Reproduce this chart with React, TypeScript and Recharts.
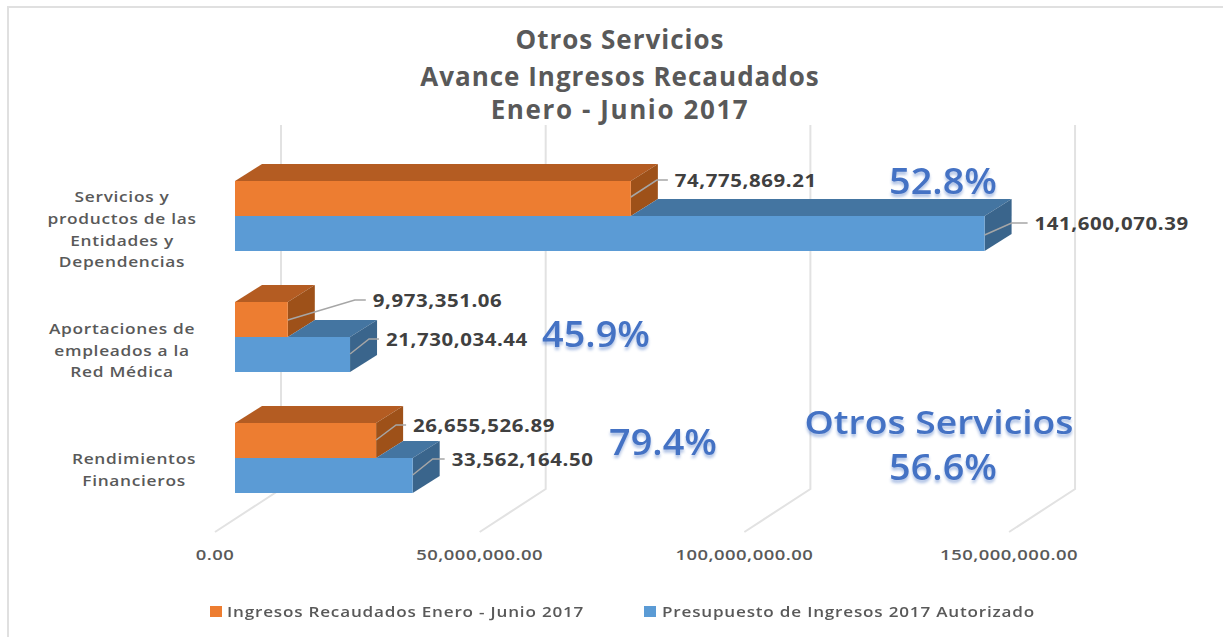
import React from 'react';
import { BarChart, Bar, XAxis, YAxis, CartesianGrid, Legend, LabelList } from 'recharts';

const CATEGORIES = [
  'Servicios y|productos de las|Entidades y|Dependencias',
  'Aportaciones de|empleados a la|Red Médica',
  'Rendimientos|Financieros',
];
const INGRESOS = [74775869.21, 9973351.06, 26655526.89];
const PRESUPUESTO = [141600070.39, 21730034.44, 33562164.5];
const X_TICKS = [0, 50000000, 100000000, 150000000];
const TITLE_LINES = ['Otros Servicios', 'Avance Ingresos Recaudados', 'Enero - Junio 2017'];
const NAME_INGRESOS = 'Ingresos Recaudados Enero - Junio 2017';
const NAME_PRESUPUESTO = 'Presupuesto de Ingresos 2017 Autorizado';

const rows = CATEGORIES.map((name, i) => ({
  name,
  ingresos: INGRESOS[i],
  presupuesto: PRESUPUESTO[i],
}));

const WIDTH = 1223;
const HEIGHT = 637;
const ORANGE = '#ED7D31';
const ORANGE_TOP = '#B45C22';
const ORANGE_SIDE = '#9E5119';
const BLUE = '#5B9BD5';
const BLUE_TOP = '#4475A1';
const BLUE_SIDE = '#3A658C';
const TEXT = '#595959';
const LABEL = '#404040';
const GRID = '#e2e2e2';
const ACCENT = '#4472C4';
const FONT = '"Open Sans", sans-serif';

// 3D look of the original
const BAR_SHIFT = 20;
const DEPTH_X = 27;
const DEPTH_Y = 17;
const BACK_X = 66;
const WALL_TOP = 125;
const FLOOR_BACK = 489;
const FLOOR_FRONT = 532;

// category labels are not all centred on the same spot in the original
const CATEGORY_POS = [
  { x: 122, dy: 19 },
  { x: 122, dy: 19 },
  { x: 134, dy: 17 },
];

// leader line shape relative to the bar end, per row
const ORANGE_LEADERS = [
  { dx: 26, dy: -17, run: 11, startY: 16 },
  { dx: 67, dy: -20, run: 11, startY: 18 },
  { dx: 20, dy: -15, run: 10, startY: 17 },
];
const BLUE_LEADERS = [
  { dx: 27, dy: -12, run: 16, startY: 19 },
  { dx: 19, dy: -15, run: 10, startY: 17 },
  { dx: 20, dy: -16, run: 12, startY: 17 },
];

const money = (v: number) =>
  v.toLocaleString('en-US', { minimumFractionDigits: 2, maximumFractionDigits: 2 });

const Box = (props: any) => {
  const { x, y, width, height, front, top, side, startFrom } = props;
  const left = x + BAR_SHIFT;
  const right = left + width;
  const topStart = startFrom ? left + startFrom(props) : left;
  return (
    <g>
      <polygon
        points={`${topStart},${y} ${topStart + DEPTH_X},${y - DEPTH_Y} ${right + DEPTH_X},${y - DEPTH_Y} ${right},${y}`}
        fill={top}
      />
      <polygon
        points={`${right},${y} ${right + DEPTH_X},${y - DEPTH_Y} ${right + DEPTH_X},${y + height - DEPTH_Y} ${right},${y + height}`}
        fill={side}
      />
      <rect x={left} y={y} width={width} height={height} fill={front} />
    </g>
  );
};

const ValueLabel = (props: any) => {
  const { x, y, width, value, index, leaders } = props;
  const end = x + BAR_SHIFT + width;
  const l = leaders[index];
  const sy = y + l.startY;
  const my = y + l.startY + l.dy;
  return (
    <g>
      <polyline
        points={`${end},${sy} ${end + l.dx},${my} ${end + l.dx + l.run},${my}`}
        fill="none"
        stroke="#a6a6a6"
        strokeWidth={1.5}
      />
      <text
        transform={`translate(${end + l.dx + l.run + 7},${my + 7}) scale(1.2,1)`}
        fill={LABEL}
        fontFamily={FONT}
        fontSize={17}
        fontWeight={700}
        letterSpacing={0.5}
      >
        {money(value)}
      </text>
    </g>
  );
};

const WallLine = (props: any) => {
  const { x1 } = props;
  return (
    <polyline
      points={`${x1},${FLOOR_FRONT} ${x1 + BACK_X},${FLOOR_BACK} ${x1 + BACK_X},${WALL_TOP}`}
      fill="none"
      stroke={GRID}
      strokeWidth={2}
    />
  );
};

const CategoryTick = (props: any) => {
  const { y, payload, index } = props;
  const lines: string[] = payload.value.split('|');
  const pos = CATEGORY_POS[index];
  return (
    <text
      transform={`translate(${pos.x},${y + pos.dy}) scale(1.155,1)`}
      textAnchor="middle"
      fill={TEXT}
      fontFamily={FONT}
      fontSize={15}
      fontWeight={600}
      letterSpacing={0.6}
    >
      {lines.map((line, i) => (
        <tspan key={line} x={0} y={(i - (lines.length - 1) / 2) * 22}>
          {line}
        </tspan>
      ))}
    </text>
  );
};

const ValueTick = (props: any) => {
  const { x, payload } = props;
  return (
    <text
      transform={`translate(${x},560) scale(1.23,1)`}
      textAnchor="middle"
      fill={TEXT}
      fontFamily={FONT}
      fontSize={15}
      fontWeight={600}
      letterSpacing={0.4}
    >
      {money(payload.value)}
    </text>
  );
};

const legendText: React.CSSProperties = {
  position: 'absolute',
  top: 1,
  whiteSpace: 'nowrap',
  transform: 'scaleX(1.14)',
  transformOrigin: 'left center',
};

const LegendRow = () => (
  <div style={{ position: 'relative', width: WIDTH, height: 24, fontFamily: FONT, fontSize: 15, fontWeight: 600, color: TEXT, letterSpacing: 0.7 }}>
    <span style={{ position: 'absolute', left: 210, top: 6, width: 12, height: 11, background: ORANGE }} />
    <span style={{ ...legendText, left: 227 }}>{NAME_INGRESOS}</span>
    <span style={{ position: 'absolute', left: 644, top: 6, width: 12, height: 11, background: BLUE }} />
    <span style={{ ...legendText, left: 662 }}>{NAME_PRESUPUESTO}</span>
  </div>
);

const Accent = ({ x, y, size, stretch = 1.05, children }: any) => (
  <text
    transform={`translate(${x},${y}) scale(${stretch},1)`}
    textAnchor="middle"
    fill={ACCENT}
    fontFamily={FONT}
    fontSize={size}
    fontWeight={600}
    style={{ filter: 'drop-shadow(0 3px 1.5px rgba(68,114,196,0.45))' }}
  >
    {children}
  </text>
);

export default function App() {
  return (
    <div style={{ position: 'absolute', left: 0, top: 0, width: WIDTH, height: HEIGHT, background: '#fff' }}>
      <div
        style={{
          position: 'absolute',
          left: 7,
          top: 6,
          right: 0,
          bottom: 0,
          borderLeft: '2px solid #e0e0e0',
          borderTop: '2px solid #e0e0e0',
          boxSizing: 'border-box',
        }}
      />
      <BarChart
        width={WIDTH}
        height={HEIGHT}
        data={rows}
        layout="vertical"
        margin={{ top: 155, right: 161, bottom: 0, left: 0 }}
        barCategoryGap={26}
        barGap={0}
        style={{ position: 'absolute', left: 0, top: 0 }}
      >
        <CartesianGrid horizontal={false} vertical={WallLine} syncWithTicks />
        <XAxis
          type="number"
          domain={[0, 160000000]}
          ticks={X_TICKS}
          tick={ValueTick}
          axisLine={false}
          tickLine={false}
          height={119}
        />
        <YAxis
          type="category"
          dataKey="name"
          width={215}
          tick={CategoryTick}
          axisLine={false}
          tickLine={false}
          interval={0}
        />
        <Bar
          dataKey="ingresos"
          name={NAME_INGRESOS}
          fill={ORANGE}
          isAnimationActive={false}
          shape={<Box front={ORANGE} top={ORANGE_TOP} side={ORANGE_SIDE} />}
        >
          <LabelList dataKey="ingresos" content={<ValueLabel leaders={ORANGE_LEADERS} />} />
        </Bar>
        <Bar
          dataKey="presupuesto"
          name={NAME_PRESUPUESTO}
          fill={BLUE}
          isAnimationActive={false}
          shape={
            <Box
              front={BLUE}
              top={BLUE_TOP}
              side={BLUE_SIDE}
              startFrom={(p: any) => (p.width * p.payload.ingresos) / p.payload.presupuesto}
            />
          }
        >
          <LabelList dataKey="presupuesto" content={<ValueLabel leaders={BLUE_LEADERS} />} />
        </Bar>
        <Legend
          content={<LegendRow />}
          wrapperStyle={{ position: 'absolute', left: 0, top: 600, width: WIDTH, height: 0 }}
        />
        {TITLE_LINES.map((line, i) => (
          <text
            key={line}
            x={620}
            y={[49, 86, 119][i]}
            textAnchor="middle"
            fill={TEXT}
            fontFamily={FONT}
            fontSize={26}
            fontWeight={700}
            letterSpacing={i === 2 ? 1.6 : 1}
          >
            {line}
          </text>
        ))}
        <Accent x={943} y={194} size={36}>52.8%</Accent>
        <Accent x={596} y={347} size={36}>45.9%</Accent>
        <Accent x={663} y={455} size={36}>79.4%</Accent>
        <Accent x={939} y={434} size={33} stretch={1.13}>Otros Servicios</Accent>
        <Accent x={943} y={480} size={36}>56.6%</Accent>
      </BarChart>
    </div>
  );
}
